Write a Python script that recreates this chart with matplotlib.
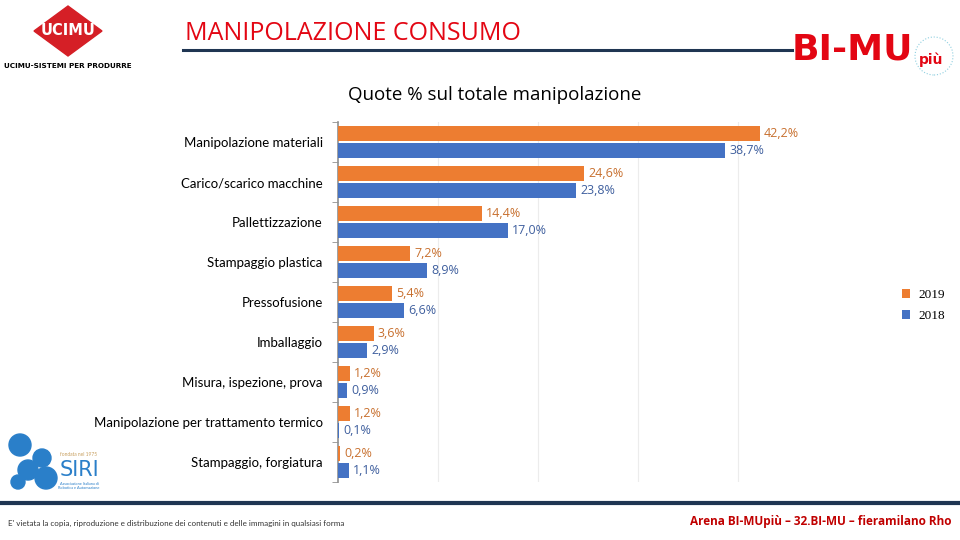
import numpy as np
import matplotlib.pyplot as plt
from matplotlib.patches import Ellipse, Polygon

categories = ['Manipolazione materiali', 'Carico/scarico macchine', 'Pallettizzazione',
              'Stampaggio plastica', 'Pressofusione', 'Imballaggio',
              'Misura, ispezione, prova', 'Manipolazione per trattamento termico',
              'Stampaggio, forgiatura']
v2019 = [42.2, 24.6, 14.4, 7.2, 5.4, 3.6, 1.2, 1.2, 0.2]
v2018 = [38.7, 23.8, 17.0, 8.9, 6.6, 2.9, 0.9, 0.1, 1.1]
series = ['2019', '2018']

ORANGE = '#ED7D31'
BLUE = '#4472C4'
RED = '#E30613'
NAVY = '#1F3552'

plt.rcParams['font.family'] = ['Lato', 'DejaVu Sans']

fig = plt.figure(figsize=(9.6, 5.4), dpi=100)
fig.patch.set_facecolor('white')


def px(x, y):
    return x / 960, 1 - y / 540


def blob(x, y, r, col):
    fig.add_artist(Ellipse(px(x, y), 2*r/960, 2*r/540, color=col, transform=fig.transFigure))


# --- grafico ---
ax = fig.add_axes([338/960, 1-482/540, 500/960, 360/540])
y = np.arange(len(categories))
h = 0.37
b1 = ax.barh(y - h/2 - 0.02, v2019, height=h, color=ORANGE, label=series[0], zorder=3)
b2 = ax.barh(y + h/2 + 0.02, v2018, height=h, color=BLUE, label=series[1], zorder=3)
ax.set_ylim(len(categories) - 0.5, -0.5)
ax.set_xlim(0, 50)
ax.set_yticks(y)
ax.set_yticklabels(categories, fontsize=9.5)
ax.set_yticks(np.arange(-0.5, len(categories)), minor=True)
ax.tick_params(axis='y', which='major', length=0, pad=11)
ax.tick_params(axis='y', which='minor', length=4, color='#909090', direction='out')
ax.set_xticks([10, 20, 30, 40])
ax.tick_params(axis='x', length=0, labelbottom=False)
ax.grid(axis='x', color='#ececec', lw=0.8, zorder=0)
for s in ['top', 'right', 'bottom']:
    ax.spines[s].set_visible(False)
ax.spines['left'].set_color('#909090')
ax.spines['left'].set_linewidth(1.2)

for bars, vals, col in [(b1, v2019, '#C8702F'), (b2, v2018, '#3F5F9E')]:
    for r, v in zip(bars, vals):
        ax.text(r.get_width() + 0.4, r.get_y() + r.get_height()/2,
                f'{v:.1f}%'.replace('.', ','), va='center', ha='left',
                fontsize=9, color=col, family='Open Sans')

leg = ax.legend(loc='center left', bbox_to_anchor=(1.105, 0.49), frameon=False,
                handlelength=0.6, handleheight=0.6, handletextpad=0.6,
                prop={'family': 'Liberation Serif', 'size': 9.5}, labelspacing=0.7)

# --- intestazione ---
fig.text(*px(185, 33), 'MANIPOLAZIONE CONSUMO', color=RED, fontsize=18,
         va='center', ha='left', family='Open Sans')
fig.add_artist(plt.Line2D([183/960, 792/960], [1-50/540, 1-50/540], color=NAVY, lw=2.2))
fig.text(*px(495, 95), 'Quote % sul totale manipolazione', fontsize=13.5,
         ha='center', va='center', family='Open Sans')

# logo UCIMU
fig.add_artist(Polygon([px(68, 6), px(102, 31), px(68, 56), px(34, 31)],
                       closed=True, color='#D51F26', transform=fig.transFigure))
fig.text(*px(68, 31), 'UCIMU', color='white', fontsize=10.5, weight='bold',
         ha='center', va='center', family='DejaVu Sans')
fig.text(*px(68, 66), 'UCIMU-SISTEMI PER PRODURRE', fontsize=5.2, weight='bold',
         ha='center', va='center', family='DejaVu Sans')

# logo BI-MU
fig.text(*px(792, 50), 'BI-MU', color=RED, fontsize=26, weight='bold',
         ha='left', va='center', family='DejaVu Sans')
fig.text(*px(919, 60), 'più', color=RED, fontsize=10, weight='bold',
         ha='left', va='center', family='DejaVu Sans')
fig.add_artist(Ellipse(px(934, 56), 38/960, 38/540, fill=False, ec='#8FCFE0', lw=0.8,
                       ls=':', transform=fig.transFigure))

# logo SIRI
for cx, cy, r in [(20, 445, 11), (42, 458, 9), (28, 470, 10), (46, 478, 11), (18, 482, 7)]:
    blob(cx, cy, r, '#2A7FC9')
fig.text(*px(79, 470), 'SIRI', color='#2A7FC9', fontsize=15, ha='center', va='center',
         family='DejaVu Sans')
fig.text(*px(79, 455), 'fondata nel 1975', color='#C8A060', fontsize=3.5, ha='center', va='center')
fig.text(*px(79, 486), 'Associazione Italiana di\nRobotica e Automazione', color='#2A7FC9',
         fontsize=2.8, ha='center', va='center')

# --- piede ---
fig.add_artist(plt.Line2D([0, 1], [1-503/540, 1-503/540], color=NAVY, lw=3))
fig.text(*px(8, 523),
         "E' vietata la copia, riproduzione e distribuzione dei contenuti e delle immagini in qualsiasi forma",
         fontsize=5.8, ha='left', va='center', color='#333333')
fig.text(*px(951, 521), 'Arena BI-MUpiù – 32.BI-MU – fieramilano Rho', color='#C00000',
         fontsize=8.5, weight='bold', ha='right', va='center', family='Open Sans')

fig.savefig('out.png', dpi=100)
